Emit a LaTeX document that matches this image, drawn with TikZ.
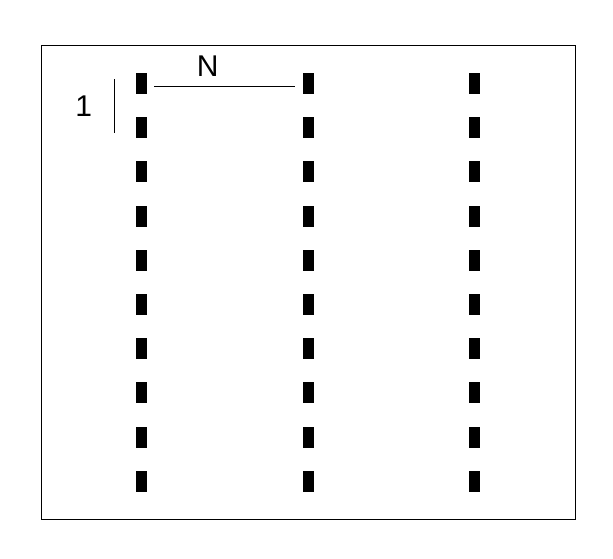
\documentclass[tikz,border=0pt]{standalone}
\usepackage{fontspec}
\setmainfont{Liberation Sans}
\begin{document}
\begin{tikzpicture}[x=1pt,y=-1pt]
	%%%%% START %%%%%
	\def\colw{11}
	\def\rowh{21}
	\def\xone{141.5}
	\def\yone{73}
	\def\dx{166.7}
	\def\dy{44.2}
	\def\width{0.9pt}
	\tikzset{label/.style={font=\fontsize{30}{32}\selectfont, inner sep=0pt}}
	
	\useasboundingbox (0,0) rectangle (613,558);
	\draw[line width=\width] (41.7,45.7) rectangle (575,519.3);
	
	\foreach \c in {0,1,2}{
		\foreach \r in {0,...,9}{
			\fill (\xone+\c*\dx-\colw/2,\yone+\r*\dy) rectangle ++(\colw,\rowh);
		}
	}
	
	\coordinate (nleft) at (154.3,86);
	\coordinate (nright) at (295,86);
	\draw[line width=\width] (nleft) -- (nright);
	\node[label] (ntext) at (207.7,65.9) {N};
	
	\coordinate (onetop) at (114.3,79.3);
	\coordinate (onebot) at (114.3,133.3);
	\draw[line width=\width] (onetop) -- (onebot);
	\node[label] (onetext) at (83.8,106.3) {1};
	%%%%% END %%%%%
\end{tikzpicture}
\end{document}
